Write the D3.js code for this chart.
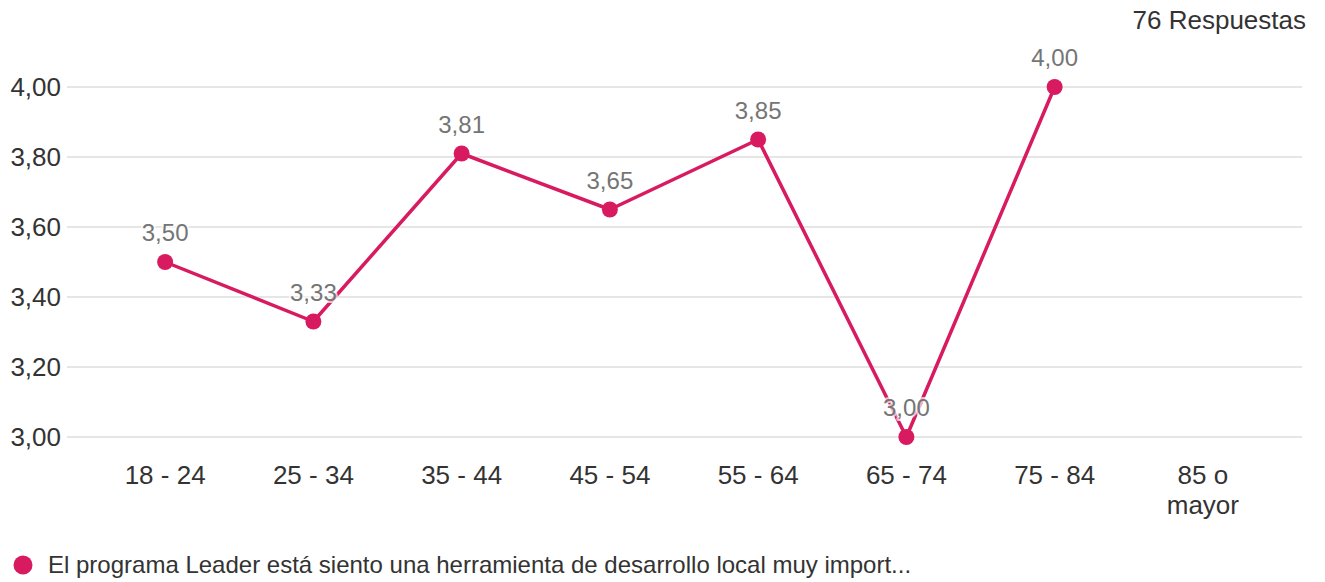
<!DOCTYPE html>
<html><head><meta charset="utf-8">
<script src="https://cdn.jsdelivr.net/npm/d3@7"></script>
<style>body{margin:0;background:#fff;}svg{display:block;font-family:"Liberation Sans",Arial,sans-serif;}</style>
</head><body>
<svg id="c" width="1325" height="582"></svg>
<script>
const categories = ["18 - 24","25 - 34","35 - 44","45 - 54","55 - 64","65 - 74","75 - 84","85 o mayor"];
const values = [3.50, 3.33, 3.81, 3.65, 3.85, 3.00, 4.00, null];
const yTicks = [3.0, 3.2, 3.4, 3.6, 3.8, 4.0];
const seriesName = "El programa Leader está siento una herramienta de desarrollo local muy import...";
const responses = "76 Respuestas";
const color = "#d81b60";

const svg = d3.select("#c");
const fmt = v => d3.format(".2f")(v).replace(".", ",");
const x = d3.scaleBand().domain(categories).range([91, 1277]);
const cx = c => x(c) + x.bandwidth()/2;
const y = d3.scaleLinear().domain([3.0, 4.0]).range([437, 87]);

// gridlines
svg.append("g").selectAll("line").data(yTicks).join("line")
  .attr("x1", 67).attr("x2", 1302)
  .attr("y1", d => y(d)).attr("y2", d => y(d))
  .attr("stroke", "#e6e6e6").attr("stroke-width", 2);

// y axis labels
svg.append("g").selectAll("text").data(yTicks).join("text")
  .attr("x", 61).attr("y", d => y(d)).attr("dy", "0.36em")
  .attr("text-anchor", "end").attr("font-size", 26).attr("fill", "#333")
  .text(d => fmt(d));

// x axis labels
const xl = svg.append("g").selectAll("text").data(categories).join("text")
  .attr("x", d => cx(d)).attr("y", 484)
  .attr("text-anchor", "middle").attr("font-size", 26).attr("fill", "#333");
xl.each(function(d){
  const t = d3.select(this);
  if (d === "85 o mayor") {
    t.append("tspan").attr("x", cx(d)).text("85 o");
    t.append("tspan").attr("x", cx(d)).attr("dy", 30).text("mayor");
  } else t.text(d);
});

const pts = categories.map((c,i)=>({c, v: values[i]})).filter(d => d.v != null);

svg.append("path").datum(pts)
  .attr("fill","none").attr("stroke", color).attr("stroke-width", 3.5)
  .attr("stroke-linejoin","round")
  .attr("d", d3.line().x(d => cx(d.c)).y(d => y(d.v)));

// labels
svg.append("g").selectAll("text").data(pts).join("text")
  .attr("x", d => cx(d.c)).attr("y", d => y(d.v) - 21)
  .attr("text-anchor","middle").attr("font-size", 24).attr("fill", "#757575")
  .attr("stroke", "rgba(255,255,255,0.7)").attr("stroke-width", 4)
  .attr("paint-order", "stroke").attr("stroke-linejoin","round")
  .text(d => fmt(d.v));

svg.append("g").selectAll("circle").data(pts).join("circle")
  .attr("cx", d => cx(d.c)).attr("cy", d => y(d.v)).attr("r", 8)
  .attr("fill", color);

// responses
svg.append("text").attr("x", 1306).attr("y", 29).attr("text-anchor","end")
  .attr("font-size", 26).attr("fill", "#333").text(responses);

// legend
svg.append("circle").attr("cx", 23).attr("cy", 565).attr("r", 9.5).attr("fill", color);
svg.append("text").attr("x", 48).attr("y", 573).attr("font-size", 24).attr("fill", "#333").text(seriesName);
</script>
</body></html>
